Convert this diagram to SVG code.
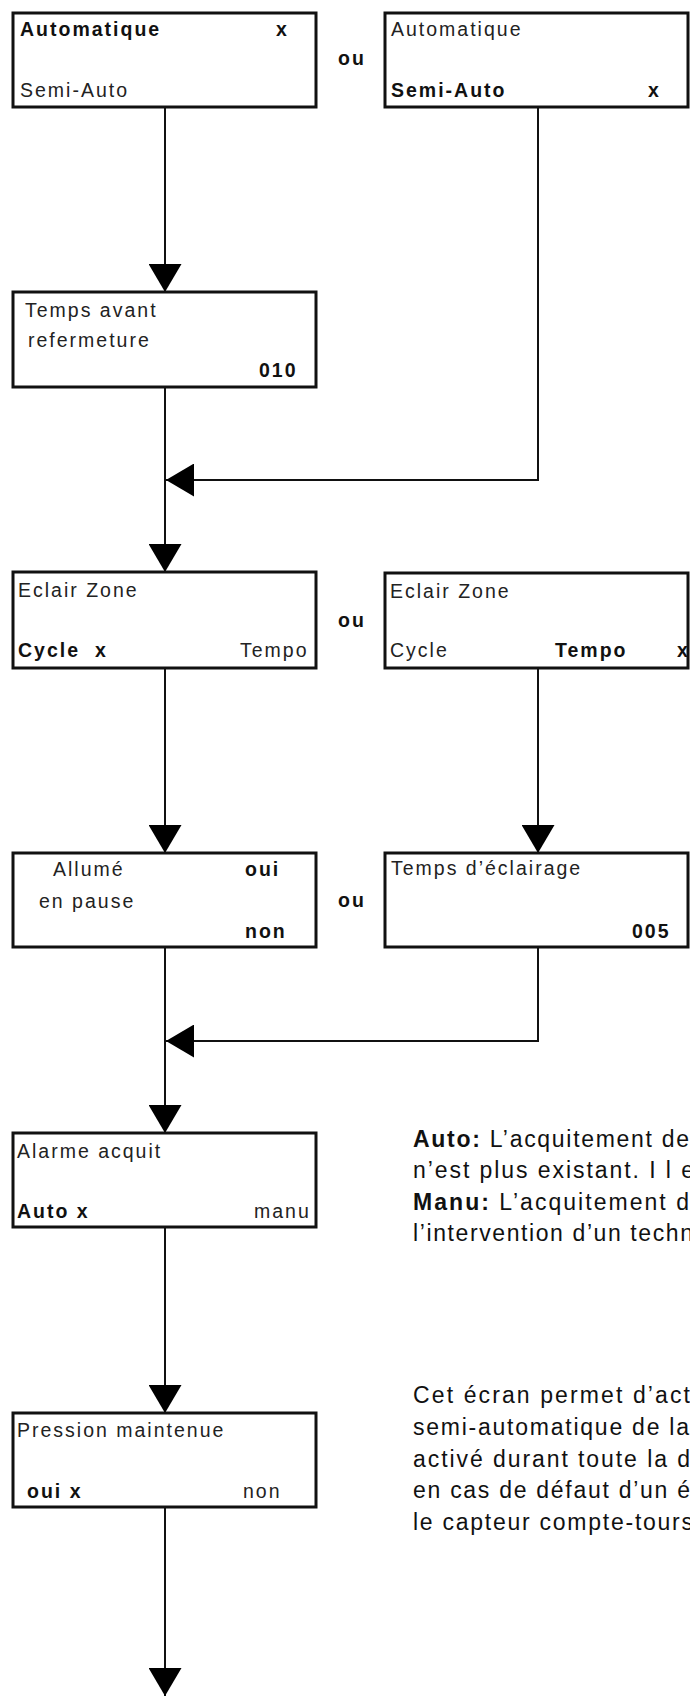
<svg xmlns="http://www.w3.org/2000/svg" width="690" height="1696" viewBox="0 0 690 1696">
  <style>
    .box { fill: #fff; stroke: #111; stroke-width: 3; }
    .t { font-family: "Liberation Sans", Arial, sans-serif; font-size: 19.5px; letter-spacing: 2px; fill: #222; }
    .b { font-weight: bold; fill: #111; }
    .p { font-family: "Liberation Sans", Arial, sans-serif; font-size: 23px; fill: #111; }
    .pb { font-weight: bold; }
    .conn { fill: none; stroke: #111; stroke-width: 2; }
  </style>
  <defs>
    <marker id="head" markerUnits="userSpaceOnUse" markerWidth="29" markerHeight="33" refX="28" refY="16.5" orient="auto">
      <path d="M0,0 L28,16.5 L0,33 Z" fill="#000"/>
    </marker>
  </defs>

  <rect width="690" height="1696" fill="#fff"/>

  <!-- connectors -->
  <g id="connectors">
    <path class="conn" d="M165,107 V292" marker-end="url(#head)"/>
    <path class="conn" d="M538,107 V480 H166" marker-end="url(#head)"/>
    <path class="conn" d="M165,387 V572" marker-end="url(#head)"/>
    <path class="conn" d="M165,668 V853" marker-end="url(#head)"/>
    <path class="conn" d="M538,668 V853" marker-end="url(#head)"/>
    <path class="conn" d="M538,947 V1041 H166" marker-end="url(#head)"/>
    <path class="conn" d="M165,947 V1133" marker-end="url(#head)"/>
    <path class="conn" d="M165,1227 V1413" marker-end="url(#head)"/>
    <path class="conn" d="M165,1507 V1696" marker-end="url(#head)"/>
  </g>

  <!-- mode: automatique -->
  <g id="mode-auto">
    <rect class="box" x="13" y="13" width="303" height="94"/>
    <text class="t b" x="20" y="36">Automatique</text>
    <text class="t b" x="276" y="36">x</text>
    <text class="t" x="20" y="97">Semi-Auto</text>
  </g>

  <text id="ou-1" class="t b" x="338" y="65">ou</text>

  <!-- mode: semi-auto -->
  <g id="mode-semi">
    <rect class="box" x="385" y="13" width="303" height="94"/>
    <text class="t" x="391" y="36">Automatique</text>
    <text class="t b" x="391" y="97">Semi-Auto</text>
    <text class="t b" x="648" y="97">x</text>
  </g>

  <!-- closing delay -->
  <g id="temps-avant">
    <rect class="box" x="13" y="292" width="303" height="95"/>
    <text class="t" x="25" y="317">Temps avant</text>
    <text class="t" x="28" y="347">refermeture</text>
    <text class="t b" x="259" y="377">010</text>
  </g>

  <!-- zone light: cycle -->
  <g id="eclair-cycle">
    <rect class="box" x="13" y="572" width="303" height="96"/>
    <text class="t" x="18" y="597">Eclair Zone</text>
    <text class="t b" x="18" y="657">Cycle</text>
    <text class="t b" x="95" y="657">x</text>
    <text class="t" x="240" y="657">Tempo</text>
  </g>

  <text id="ou-2" class="t b" x="338" y="627">ou</text>

  <!-- zone light: tempo -->
  <g id="eclair-tempo">
    <rect class="box" x="385" y="573" width="303" height="95"/>
    <text class="t" x="390" y="598">Eclair Zone</text>
    <text class="t" x="390" y="657">Cycle</text>
    <text class="t b" x="555" y="657">Tempo</text>
    <text class="t b" x="677" y="657">x</text>
  </g>

  <!-- lit during pause -->
  <g id="allume-pause">
    <rect class="box" x="13" y="853" width="303" height="94"/>
    <text class="t" x="53" y="876">Allumé</text>
    <text class="t b" x="245" y="876">oui</text>
    <text class="t" x="39" y="908">en pause</text>
    <text class="t b" x="245" y="938">non</text>
  </g>

  <text id="ou-3" class="t b" x="338" y="907">ou</text>

  <!-- lighting time -->
  <g id="temps-eclairage">
    <rect class="box" x="385" y="853" width="303" height="94"/>
    <text class="t" x="391" y="875">Temps d’éclairage</text>
    <text class="t b" x="632" y="938">005</text>
  </g>

  <!-- alarm acknowledgement -->
  <g id="alarme-acquit">
    <rect class="box" x="13" y="1133" width="303" height="94"/>
    <text class="t" x="17" y="1158">Alarme acquit</text>
    <text class="t b" x="17" y="1218">Auto x</text>
    <text class="t" x="254" y="1218">manu</text>
  </g>

  <!-- maintained pressure -->
  <g id="pression">
    <rect class="box" x="13" y="1413" width="303" height="94"/>
    <text class="t" x="17" y="1437">Pression maintenue</text>
    <text class="t b" x="27" y="1498">oui x</text>
    <text class="t" x="243" y="1498">non</text>
  </g>

  <!-- notes -->
  <g id="note-alarme" class="p">
    <text x="413" y="1147" textLength="276" lengthAdjust="spacing"><tspan class="pb">Auto:</tspan> L’acquitement de</text>
    <text x="413" y="1178" textLength="281" lengthAdjust="spacing">n’est plus existant. I l e</text>
    <text x="413" y="1210" textLength="276" lengthAdjust="spacing"><tspan class="pb">Manu:</tspan> L’acquitement d</text>
    <text x="413" y="1241" textLength="280" lengthAdjust="spacing">l’intervention d’un techn</text>
  </g>

  <g id="note-pression" class="p">
    <text x="413" y="1403" textLength="277" lengthAdjust="spacing">Cet écran permet d’act</text>
    <text x="413" y="1435" textLength="276" lengthAdjust="spacing">semi-automatique de la</text>
    <text x="413" y="1467" textLength="277" lengthAdjust="spacing">activé durant toute la d</text>
    <text x="413" y="1498" textLength="277" lengthAdjust="spacing">en cas de défaut d’un é</text>
    <text x="413" y="1530" textLength="280" lengthAdjust="spacing">le capteur compte-tours</text>
  </g>
</svg>
